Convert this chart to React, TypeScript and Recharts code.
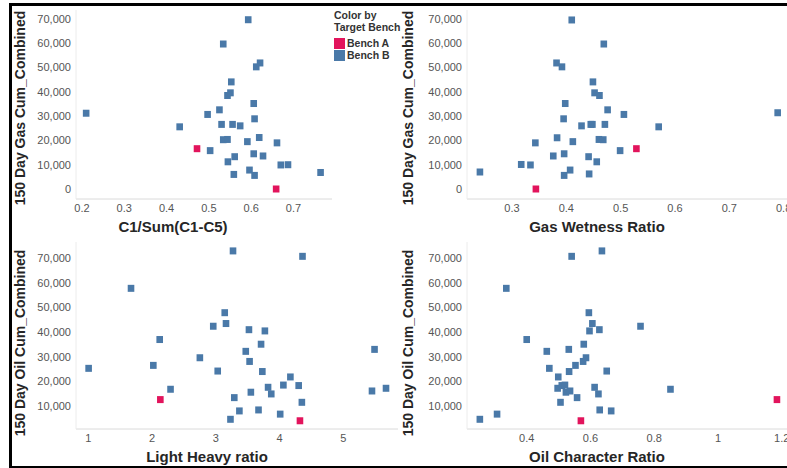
import { ScatterChart, Scatter, XAxis, YAxis } from "recharts";

// C1/Sum(C1-C5) vs 150 day gas
const c1SumX = [0.21, 0.431, 0.472, 0.503, 0.497, 0.525, 0.534, 0.593, 0.53, 0.534, 0.544, 0.545, 0.544, 0.551, 0.553, 0.556, 0.561, 0.559, 0.574, 0.591, 0.596, 0.606, 0.606, 0.608, 0.608, 0.612, 0.621, 0.619, 0.628, 0.661, 0.659, 0.67, 0.687, 0.764];
const c1SumGas = [31.2, 25.6, 16.6, 15.8, 30.7, 32.6, 59.7, 69.7, 26.6, 20.3, 20.4, 11.2, 38.5, 39.6, 44.1, 26.6, 13.3, 6.0, 26.0, 19.5, 7.8, 35.2, 14.5, 28.9, 5.6, 50.3, 51.9, 21.2, 13.6, 19.0, 0, 9.9, 10.0, 6.8];
const c1SumBench = ["B", "B", "A", "B", "B", "B", "B", "B", "B", "B", "B", "B", "B", "B", "B", "B", "B", "B", "B", "B", "B", "B", "B", "B", "B", "B", "B", "B", "B", "B", "A", "B", "B", "B"];

// Gas Wetness Ratio vs 150 day gas
const wetnessX = [0.241, 0.317, 0.334, 0.343, 0.344, 0.376, 0.382, 0.383, 0.392, 0.395, 0.396, 0.396, 0.398, 0.41, 0.407, 0.412, 0.428, 0.442, 0.441, 0.445, 0.448, 0.449, 0.452, 0.456, 0.46, 0.461, 0.468, 0.469, 0.471, 0.476, 0.499, 0.506, 0.529, 0.57, 0.789];
const wetnessGas = [7.0, 10.1, 9.9, 19.0, 0, 13.6, 51.9, 21.1, 50.3, 28.9, 14.5, 5.6, 35.2, 69.6, 7.8, 19.5, 26.0, 6.2, 13.3, 26.6, 26.6, 44.1, 39.6, 11.2, 20.4, 38.5, 20.3, 59.7, 26.6, 32.6, 15.8, 30.7, 16.6, 25.6, 31.4];
const wetnessBench = ["B", "B", "B", "B", "A", "B", "B", "B", "B", "B", "B", "B", "B", "B", "B", "B", "B", "B", "B", "B", "B", "B", "B", "B", "B", "B", "B", "B", "B", "B", "B", "B", "A", "B", "B"];

// Light Heavy ratio vs 150 day oil
const lightHeavyX = [1.005, 1.67, 2.02, 2.12, 2.13, 2.29, 2.75, 2.96, 3.03, 3.14, 3.16, 3.23, 3.27, 3.29, 3.37, 3.47, 3.53, 3.52, 3.55, 3.67, 3.71, 3.73, 3.77, 3.82, 3.87, 4.01, 4.06, 4.17, 4.3, 4.32, 4.35, 4.36, 5.45, 5.49, 5.67];
const lightHeavyOil = [25.3, 57.8, 26.5, 37.0, 12.6, 16.8, 29.6, 42.4, 24.2, 47.9, 43.5, 4.6, 73.0, 13.4, 8.0, 32.2, 28.1, 41.0, 15.6, 8.4, 35.1, 24.0, 40.5, 17.6, 14.9, 6.7, 18.5, 21.8, 18.3, 4.0, 11.5, 70.8, 16.1, 33.0, 17.2];
const lightHeavyBench = ["B", "B", "B", "B", "A", "B", "B", "B", "B", "B", "B", "B", "B", "B", "B", "B", "B", "B", "B", "B", "B", "B", "B", "B", "B", "B", "B", "B", "B", "A", "B", "B", "B", "B", "B"];

// Oil Character Ratio vs 150 day oil
const oilCharX = [0.253, 0.307, 0.336, 0.4, 0.463, 0.471, 0.499, 0.497, 0.506, 0.51, 0.52, 0.523, 0.532, 0.533, 0.536, 0.541, 0.553, 0.558, 0.57, 0.579, 0.577, 0.586, 0.595, 0.597, 0.606, 0.613, 0.625, 0.629, 0.628, 0.636, 0.651, 0.665, 0.757, 0.851, 1.185];
const oilCharOil = [4.6, 6.7, 57.8, 37.0, 32.2, 25.3, 21.8, 17.2, 11.5, 18.3, 18.5, 15.6, 33.0, 24.0, 16.1, 70.8, 26.5, 13.4, 4.0, 35.1, 28.1, 29.6, 47.9, 40.5, 43.5, 17.6, 14.9, 8.4, 41.0, 73.0, 24.2, 8.0, 42.4, 16.8, 12.6];
const oilCharBench = ["B", "B", "B", "B", "B", "B", "B", "B", "B", "B", "B", "B", "B", "B", "B", "B", "B", "B", "A", "B", "B", "B", "B", "B", "B", "B", "B", "B", "B", "B", "B", "B", "B", "B", "A"];

const gasTicks = [0, 10000, 20000, 30000, 40000, 50000, 60000, 70000];
const oilTicks = [10000, 20000, 30000, 40000, 50000, 60000, 70000];

const BENCH_A = "#e2145c";
const BENCH_B = "#4a79a8";
const NARROW = '"Liberation Sans Narrow", "Liberation Sans", Arial, sans-serif';
const WIDE = '"Liberation Sans", Arial, sans-serif';

const square = (color: string) => (props: any) => (
  <rect x={props.cx - 3.3} y={props.cy - 3.5} width={6.6} height={7} fill={color} />
);

type PanelProps = {
  left: number;
  top: number;
  width: number;
  height: number;
  margin: { top: number; right: number; bottom: number; left: number };
  xDomain: [number, number];
  xTicks: number[];
  yDomain: [number, number];
  yTicks: number[];
  xs: number[];
  ys: number[];
  bench: string[];
};

function Panel(p: PanelProps) {
  const rows = p.xs.map((x, i) => ({ x, y: p.ys[i] * 1000, bench: p.bench[i] }));
  const a = rows.filter((r) => r.bench === "A");
  const b = rows.filter((r) => r.bench === "B");
  const tick = { fill: "#555", fontSize: 11, fontFamily: NARROW };
  return (
    <div style={{ position: "absolute", left: p.left, top: p.top }}>
      <ScatterChart width={p.width} height={p.height} margin={p.margin}>
        <XAxis
          type="number"
          dataKey="x"
          domain={p.xDomain}
          ticks={p.xTicks}
          interval={0}
          allowDataOverflow
          tickLine={false}
          tickSize={0}
          tickMargin={5}
          height={20}
          axisLine={{ stroke: "#dadada" }}
          tick={tick}
        />
        <YAxis
          type="number"
          dataKey="y"
          domain={p.yDomain}
          ticks={p.yTicks}
          interval={0}
          allowDataOverflow
          width={50}
          tickLine={false}
          tickSize={0}
          tickMargin={5}
          axisLine={{ stroke: "#ececec" }}
          tick={tick}
          tickFormatter={(v: number) => v.toLocaleString("en-US")}
        />
        <Scatter data={b} fill={BENCH_B} shape={square(BENCH_B)} isAnimationActive={false} />
        <Scatter data={a} fill={BENCH_A} shape={square(BENCH_A)} isAnimationActive={false} />
      </ScatterChart>
    </div>
  );
}

const xTitle = (text: string, cx: number, cy: number) => (
  <div
    style={{
      position: "absolute",
      left: cx - 100,
      top: cy - 9,
      width: 200,
      textAlign: "center",
      fontFamily: NARROW,
      fontWeight: "bold",
      fontSize: 15,
      lineHeight: "18px",
      color: "#262626",
    }}
  >
    {text}
  </div>
);

const yTitle = (text: string, cx: number, cy: number) => (
  <div
    style={{
      position: "absolute",
      left: cx - 110,
      top: cy - 9,
      width: 220,
      textAlign: "center",
      fontFamily: WIDE,
      fontWeight: "bold",
      fontSize: 14,
      lineHeight: "18px",
      color: "#262626",
      transform: "rotate(-90deg)",
    }}
  >
    {text}
  </div>
);

export default function App() {
  const topMargin = { top: 10, right: 68, bottom: 11, left: 26 };
  return (
    <div
      style={{
        position: "absolute",
        left: 0,
        top: 0,
        width: 787,
        height: 468,
        overflow: "hidden",
        background: "#fff",
      }}
    >
      <Panel
        left={0}
        top={0}
        width={400}
        height={230}
        margin={topMargin}
        xDomain={[0.186, 0.791]}
        xTicks={[0.2, 0.3, 0.4, 0.5, 0.6, 0.7]}
        yDomain={[-4117, 73705]}
        yTicks={gasTicks}
        xs={c1SumX}
        ys={c1SumGas}
        bench={c1SumBench}
      />
      <Panel
        left={395}
        top={0}
        width={420}
        height={230}
        margin={{ top: 10, right: 10, bottom: 11, left: 22 }}
        xDomain={[0.2172, 0.8393]}
        xTicks={[0.3, 0.4, 0.5, 0.6, 0.7, 0.8]}
        yDomain={[-4117, 73705]}
        yTicks={gasTicks}
        xs={wetnessX}
        ys={wetnessGas}
        bench={wetnessBench}
      />
      <Panel
        left={0}
        top={230}
        width={400}
        height={238}
        margin={{ top: 12, right: 2, bottom: 19, left: 26 }}
        xDomain={[0.807, 5.858]}
        xTicks={[1, 2, 3, 4, 5]}
        yDomain={[656, 76620]}
        yTicks={oilTicks}
        xs={lightHeavyX}
        ys={lightHeavyOil}
        bench={lightHeavyBench}
      />
      <Panel
        left={395}
        top={230}
        width={420}
        height={238}
        margin={{ top: 12, right: 10, bottom: 19, left: 22 }}
        xDomain={[0.2127, 1.273]}
        xTicks={[0.4, 0.6, 0.8, 1, 1.2]}
        yDomain={[656, 76620]}
        yTicks={oilTicks}
        xs={oilCharX}
        ys={oilCharOil}
        bench={oilCharBench}
      />

      {xTitle("C1/Sum(C1-C5)", 173, 227)}
      {xTitle("Gas Wetness Ratio", 597, 227)}
      {xTitle("Light Heavy ratio", 207, 457)}
      {xTitle("Oil Character Ratio", 597, 457)}
      {yTitle("150 Day Gas Cum_Combined", 20, 108)}
      {yTitle("150 Day Gas Cum_Combined", 408, 108)}
      {yTitle("150 Day Oil Cum_Combined", 20, 343)}
      {yTitle("150 Day Oil Cum_Combined", 408, 343)}

      {/* legend */}
      <div style={{ position: "absolute", left: 334, top: 9, fontFamily: NARROW, fontWeight: "bold", fontSize: 10.5, color: "#333", lineHeight: "12px" }}>
        <div>Color by</div>
        <div>Target Bench</div>
        <div style={{ display: "flex", alignItems: "center", marginTop: 4, height: 12 }}>
          <span style={{ display: "inline-block", width: 11, height: 11, background: BENCH_A, marginRight: 2 }} />
          Bench A
        </div>
        <div style={{ display: "flex", alignItems: "center", height: 12 }}>
          <span style={{ display: "inline-block", width: 11, height: 11, background: BENCH_B, marginRight: 2 }} />
          Bench B
        </div>
      </div>

      {/* outer frame */}
      <div style={{ position: "absolute", left: 9, top: 3, width: 778, height: 2.5, background: "#000" }} />
      <div style={{ position: "absolute", left: 9, top: 3, width: 2.5, height: 465, background: "#000" }} />
      <div style={{ position: "absolute", left: 9, top: 465.5, width: 778, height: 2.5, background: "#000" }} />
    </div>
  );
}
